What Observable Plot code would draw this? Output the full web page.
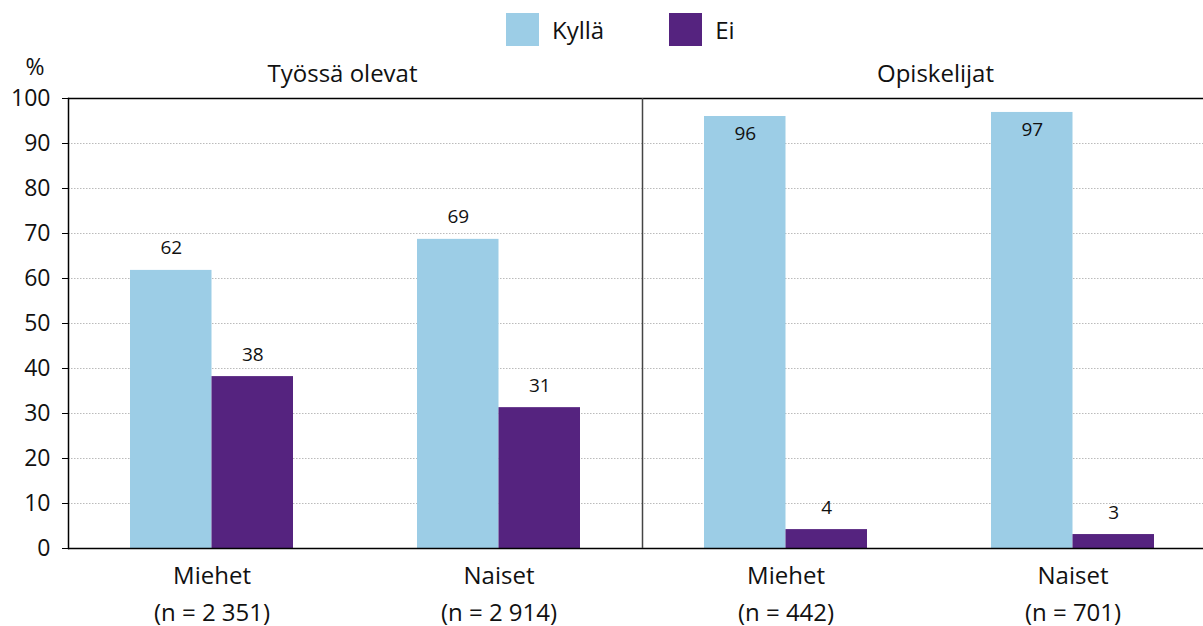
<!DOCTYPE html>
<html>
<head>
<meta charset="utf-8">
<script src="https://cdn.jsdelivr.net/npm/d3@7"></script>
<script src="https://cdn.jsdelivr.net/npm/@observablehq/plot@0.6"></script>
<style>
  html, body { margin: 0; padding: 0; background: white; overflow: hidden; }
  body { font-family: "Open Sans", sans-serif; color: #111; }
  #legend { height: 60px; display: flex; align-items: flex-start; padding-left: 506px; box-sizing: border-box; }
  .item { display: flex; align-items: center; margin-top: 13px; margin-right: 65px; }
  .sw { width: 33px; height: 33px; margin-right: 13px; }
  .lab { font-size: 24px; line-height: 33px; }
</style>
</head>
<body>
<div id="legend"></div>
<div id="chart"></div>
<script>
const groups = ["Työssä olevat", "Opiskelijat"];
const genders = ["Miehet", "Naiset"];
const nLabels = ["(n = 2 351)", "(n = 2 914)", "(n = 442)", "(n = 701)"];
const series = ["Kyllä", "Ei"];
const colors = ["#9ccde6", "#55237f"];
const kyllaValues = [61.8, 68.7, 96.0, 96.9];
const eiValues = [38.2, 31.3, 4.2, 3.1];
const yTicks = [0, 10, 20, 30, 40, 50, 60, 70, 80, 90, 100];

// legend
const legend = document.getElementById("legend");
series.forEach((s, i) => {
  const it = document.createElement("div");
  it.className = "item";
  it.innerHTML = `<div class="sw" style="background:${colors[i]}"></div><div class="lab">${s}</div>`;
  legend.appendChild(it);
});

const keys = [];
const tickLabel = new Map();
groups.forEach((g, gi) => genders.forEach((s, si) => {
  const k = g + "|" + s;
  keys.push(k);
  tickLabel.set(k, s + "\n" + nLabels[gi * 2 + si]);
}));

const data = [];
keys.forEach((k, i) => {
  data.push({key: k, series: "Kyllä", value: kyllaValues[i]});
  data.push({key: k, series: "Ei", value: eiValues[i]});
});

const half = 143.5;
const barW = 81.5;
const font = "Open Sans, sans-serif";

const labelMark = (s, dx) => [
  Plot.text(data.filter(d => d.series === s && d.value <= 90), {
    x: "key", y: "value", text: d => String(Math.round(d.value)),
    dx, dy: -22, fontSize: 19, fill: "#111"
  }),
  Plot.text(data.filter(d => d.series === s && d.value > 90), {
    x: "key", y: "value", text: d => String(Math.round(d.value)),
    dx, dy: 17, fontSize: 19, fill: "#111"
  })
];

const titleMark = (gi, dx) => Plot.text([keys[gi * 2]], {
  x: d => d, text: () => groups[gi], frameAnchor: "top", lineAnchor: "middle",
  dx, dy: -24, fontSize: 24, fill: "#111"
});

const chart = Plot.plot({
  width: 1203,
  height: 566,
  marginTop: 38,
  marginBottom: 78,
  marginLeft: 68,
  marginRight: 0,
  style: {fontFamily: font, color: "#111", background: "white", overflow: "visible"},
  x: {domain: keys, range: [68, 68 + 4 * 287], padding: 0},
  y: {domain: [0, 100]},
  color: {domain: series, range: colors},
  marks: [
    Plot.ruleY(yTicks.filter(t => t > 0 && t < 100), {stroke: "#bbb", strokeDasharray: "1.5,1.5"}),
    Plot.barY(data.filter(d => d.series === "Kyllä"), {x: "key", y: "value", fill: "series", insetLeft: half - barW, insetRight: half}),
    Plot.barY(data.filter(d => d.series === "Ei"), {x: "key", y: "value", fill: "series", insetLeft: half, insetRight: half - barW}),
    ...labelMark("Kyllä", -barW / 2),
    ...labelMark("Ei", barW / 2),
    Plot.ruleY([0, 100], {stroke: "#000", strokeWidth: 1.5}),
    Plot.ruleX([keys[2]], {x: d => d, dx: -half, stroke: "#444", strokeWidth: 1.5}),
    Plot.frame({anchor: "left", stroke: "#000", strokeWidth: 1.5}),
    Plot.axisY({ticks: yTicks, tickSize: 6, tickPadding: 12, fontSize: 23, label: null, stroke: "#000"}),
    Plot.axisX({tickFormat: k => tickLabel.get(k), tickSize: 0, tickPadding: 9, fontSize: 24, lineHeight: 1.55, label: null}),
    titleMark(0, half - 13),
    titleMark(1, half + 6),
    Plot.text(["%"], {frameAnchor: "top-left", lineAnchor: "middle", text: d => d, dx: -43, dy: -31, fontSize: 23, fill: "#111"})
  ]
});
document.getElementById("chart").appendChild(chart);
</script>
</body>
</html>
